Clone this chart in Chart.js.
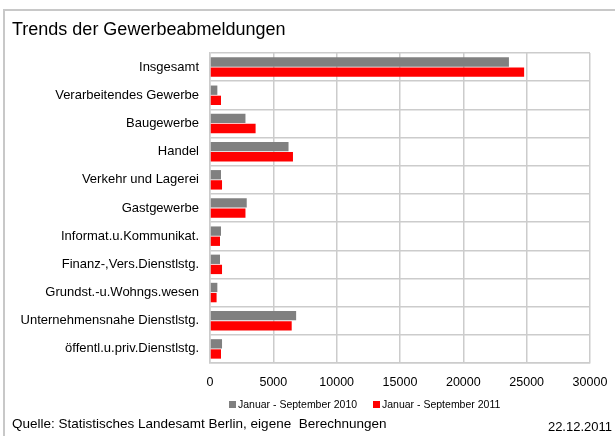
<!DOCTYPE html>
<html lang="de">
<head>
<meta charset="UTF-8">
<title>Trends der Gewerbeabmeldungen</title>
<script src="https://cdn.jsdelivr.net/npm/chart.js"></script>
<style>
  body { margin: 0; background: #fff; }
  #wrap { width: 615px; height: 436px; }
</style>
</head>
<body>
<div id="wrap"><canvas id="chart" width="615" height="436"></canvas></div>
<script>
// Gewerbeabmeldungen nach Wirtschaftsbereichen
var branchen = ['Insgesamt', 'Verarbeitendes Gewerbe', 'Baugewerbe', 'Handel', 'Verkehr und Lagerei',
  'Gastgewerbe', 'Informat.u.Kommunikat.', 'Finanz-,Vers.Dienstlstg.', 'Grundst.-u.Wohngs.wesen',
  'Unternehmensnahe Dienstlstg.', 'öffentl.u.priv.Dienstlstg.'];
var jahr2010 = [23600, 580, 2800, 6200, 870, 2900, 870, 790, 580, 6800, 950];
var jahr2011 = [24800, 870, 3600, 6550, 950, 2800, 790, 950, 520, 6450, 870];
var serien = ['Januar - September 2010', 'Januar - September 2011'];
var xTicks = [0, 5000, 10000, 15000, 20000, 25000, 30000];

var FONT = '"Liberation Sans", Arial, sans-serif';

// Rahmen, Titel, Legende und Quellenangabe
var decor = {
  id: 'decor',
  beforeDraw: function (chart) {
    var c = chart.ctx;
    c.save();
    c.fillStyle = '#fff';
    c.fillRect(0, 0, chart.width, chart.height);
    c.strokeStyle = '#c8c8c8';
    c.lineWidth = 2;
    c.strokeRect(4, 10, chart.width + 10, chart.height + 10);
    c.restore();
  },
  afterDraw: function (chart) {
    var c = chart.ctx;
    c.save();
    c.fillStyle = '#000';
    c.textBaseline = 'middle';
    c.font = '18px ' + FONT;
    c.fillText('Trends der Gewerbeabmeldungen', 12, 30);

    // Legende
    c.font = '10.5px ' + FONT;
    var lx = [229, 373];
    chart.data.datasets.forEach(function (ds, i) {
      c.fillStyle = ds.backgroundColor;
      c.fillRect(lx[i], 401, 7, 7);
      c.fillStyle = '#000';
      c.fillText(ds.label, lx[i] + 9, 405);
    });

    c.font = '13.5px ' + FONT;
    c.fillText('Quelle: Statistisches Landesamt Berlin, eigene  Berechnungen', 12, 424);
    c.font = '13px ' + FONT;
    c.textAlign = 'right';
    c.fillText('22.12.2011', 612, 427);
    c.restore();
  }
};

new Chart(document.getElementById('chart'), {
  type: 'bar',
  data: {
    labels: branchen,
    datasets: [
      { label: serien[0], data: jahr2010, backgroundColor: '#808080' },
      { label: serien[1], data: jahr2011, backgroundColor: '#ff0000' }
    ]
  },
  options: {
    indexAxis: 'y',
    responsive: false,
    animation: false,
    categoryPercentage: 0.72,
    barPercentage: 0.92,
    layout: { padding: { left: 0, top: 53, right: 25, bottom: 43 } },
    plugins: {
      legend: { display: false },
      title: { display: false },
      tooltip: { enabled: false }
    },
    scales: {
      x: {
        min: 0,
        max: 30000,
        afterBuildTicks: function (scale) {
          scale.ticks = xTicks.map(function (v) { return { value: v }; });
        },
        afterFit: function (scale) {
          scale.height = 30;
          scale.paddingLeft = 0;
          scale.paddingRight = 0;
        },
        grid: { color: '#cccccc', lineWidth: 1.5, drawTicks: false },
        border: { color: '#cccccc', width: 1.5 },
        ticks: {
          color: '#000', padding: 12, font: { family: FONT, size: 12.5 },
          callback: function (v) { return String(v); }
        }
      },
      y: {
        afterFit: function (scale) { scale.width = 210; },
        grid: { color: '#cccccc', lineWidth: 1.5, drawTicks: false },
        border: { color: '#cccccc', width: 1.5 },
        ticks: { color: '#000', padding: 11, font: { family: FONT, size: 13 } }
      }
    }
  },
  plugins: [decor]
});
</script>
</body>
</html>
